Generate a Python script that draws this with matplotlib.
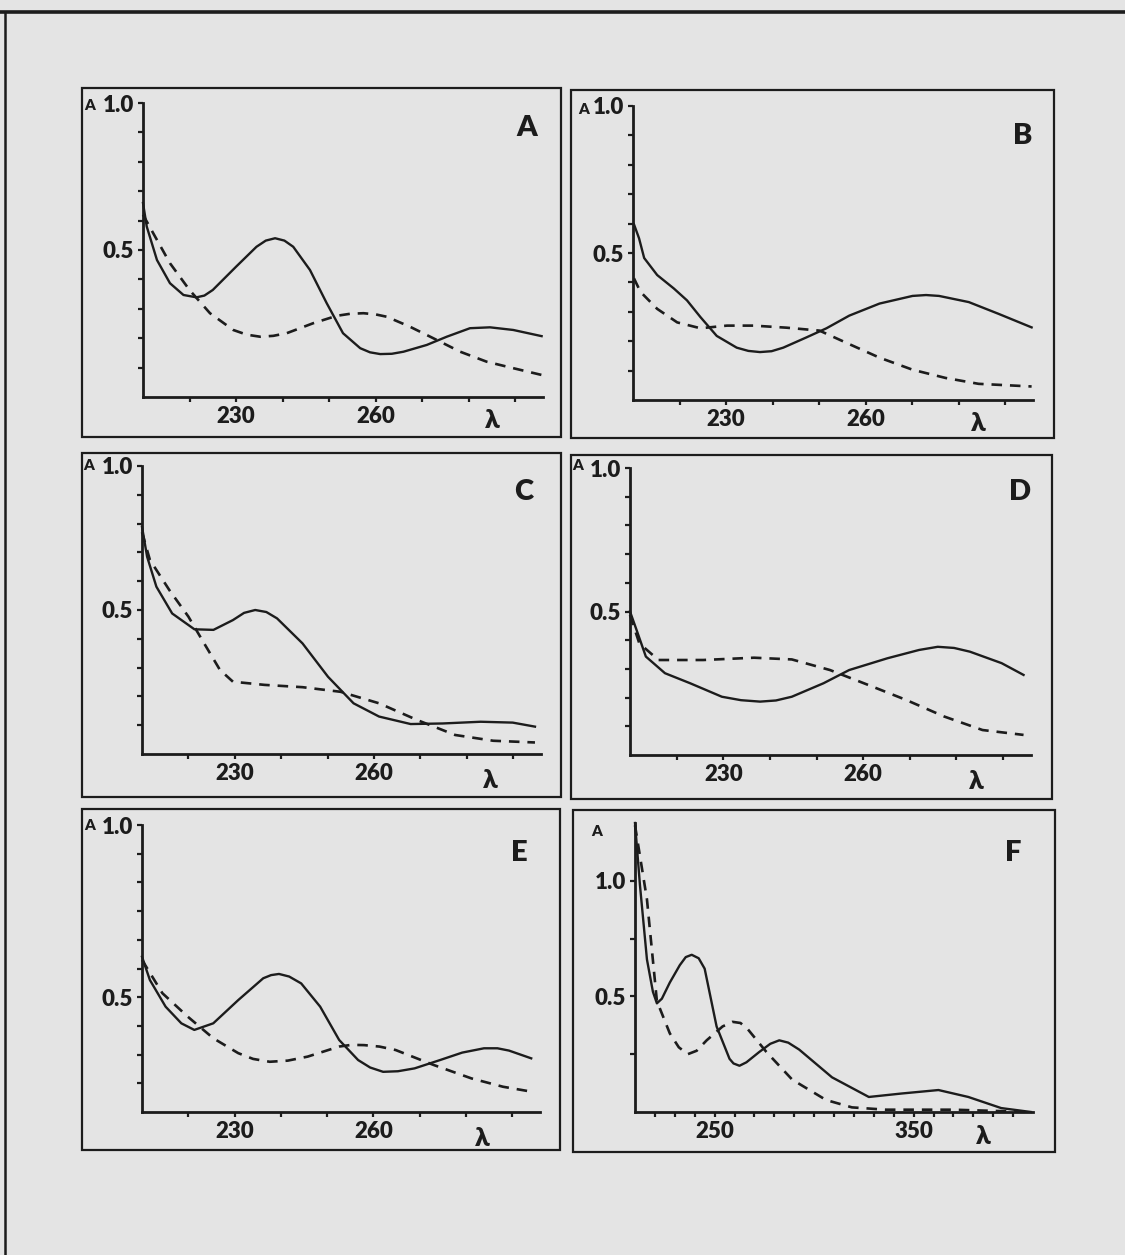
import numpy as np
import matplotlib.pyplot as plt
from matplotlib.patches import Rectangle
from matplotlib.lines import Line2D

W, H = 1125, 1255
BG = '#e4e4e4'
INK = '#1c1c1c'
FONT = ['Lato', 'DejaVu Sans']
WEIGHT = 'heavy'

# --- spectra (wavelength nm, absorbance) ---
a_sol_nm = [210, 210.8, 213, 215.8, 218.7, 221.5, 223.2, 225, 230, 234.4, 236.4, 238.4, 240.4,
            242.3, 245.9, 249.5, 253, 256.7, 258.8, 261, 263.5, 266, 271, 275.3, 280.3, 284.6,
            289.6, 295.7]
a_sol_ab = [0.66, 0.58, 0.466, 0.387, 0.347, 0.339, 0.345, 0.364, 0.443, 0.511, 0.532, 0.54, 0.532,
            0.511, 0.432, 0.319, 0.217, 0.166, 0.152, 0.146, 0.147, 0.154, 0.177, 0.205, 0.234, 0.237,
            0.228, 0.207]
a_das_nm = [210, 212.2, 215.8, 220, 224.4, 229.4, 232.3, 235.2, 238, 240.9, 246.6, 251.6, 254.5,
            257.4, 260, 262.4, 267.4, 272.4, 278.2, 283.9, 289.6, 295.7]
a_das_ab = [0.62, 0.557, 0.455, 0.364, 0.285, 0.228, 0.212, 0.205, 0.208, 0.217, 0.251, 0.276, 0.283,
            0.285, 0.281, 0.273, 0.239, 0.2, 0.154, 0.12, 0.098, 0.075]

b_sol_nm = [210.2, 211.3, 212.4, 215.2, 218.8, 221.6, 224.5, 228, 232.3, 234.8, 237.3, 239.8,
            242.3, 247.3, 251.6, 256.5, 263, 270.1, 273, 275.8, 282.2, 288.6, 295.7]
b_sol_ab = [0.598, 0.55, 0.483, 0.425, 0.379, 0.339, 0.282, 0.218, 0.178, 0.167, 0.163, 0.166,
            0.178, 0.213, 0.244, 0.287, 0.328, 0.354, 0.357, 0.354, 0.333, 0.293, 0.247]
b_das_nm = [210.2, 211.6, 215.2, 219.5, 224.5, 230.2, 235.9, 243, 250.1, 255.8, 263, 270.1,
            277.2, 284.3, 295.7]
b_das_ab = [0.414, 0.368, 0.31, 0.264, 0.244, 0.253, 0.253, 0.246, 0.236, 0.195, 0.144, 0.103,
            0.075, 0.055, 0.046]

c_sol_nm = [210, 211.1, 213.1, 216.5, 221.3, 225.4, 229.6, 232, 234.4, 236.8, 239.1, 244.6,
            250.1, 255.6, 261.1, 267.9, 274.8, 283, 289.9, 294.7]
c_sol_ab = [0.789, 0.685, 0.581, 0.488, 0.433, 0.431, 0.465, 0.49, 0.5, 0.493, 0.471, 0.384,
            0.268, 0.176, 0.13, 0.104, 0.106, 0.112, 0.109, 0.095]
c_das_nm = [210, 211.7, 215.9, 220, 223.4, 226.8, 229.6, 236.4, 244.6, 252.8, 261.1, 269.3,
            277.5, 285.7, 294.7]
c_das_ab = [0.77, 0.674, 0.569, 0.477, 0.384, 0.292, 0.251, 0.24, 0.232, 0.216, 0.176, 0.118,
            0.066, 0.046, 0.04]

d_sol_nm = [210, 211.4, 213.4, 217.5, 222.9, 229.7, 233.8, 237.9, 241.3, 244.7, 251.5, 257,
            265.2, 272, 276, 279.5, 282.9, 289.7, 294.4]
d_sol_ab = [0.5, 0.436, 0.343, 0.285, 0.25, 0.203, 0.191, 0.186, 0.19, 0.203, 0.25, 0.296,
            0.337, 0.366, 0.377, 0.373, 0.36, 0.32, 0.279]
d_das_nm = [210, 212, 216.1, 225.7, 236.6, 244.7, 252.9, 261.1, 269.2, 277.4, 285.6, 294.4]
d_das_ab = [0.488, 0.389, 0.331, 0.331, 0.339, 0.333, 0.296, 0.244, 0.192, 0.134, 0.087, 0.07]

e_sol_nm = [210, 211.7, 215.1, 218.5, 221.3, 225.4, 230.8, 236.2, 237.9, 239.6, 241.8, 244.4,
            248.5, 252.6, 256.7, 259.3, 262.1, 265.3, 268.9, 274.4, 279.2, 283.9, 286.8, 289.3,
            294.1]
e_sol_ab = [0.541, 0.46, 0.367, 0.309, 0.286, 0.309, 0.39, 0.466, 0.477, 0.481, 0.472, 0.448,
            0.367, 0.251, 0.181, 0.155, 0.14, 0.142, 0.152, 0.181, 0.207, 0.222, 0.222, 0.214,
            0.187]
e_das_nm = [210, 214.4, 219.9, 225.4, 230.8, 234, 237.6, 241.5, 245.8, 252.6, 255.3, 258,
            261.3, 264.8, 273, 281.2, 288, 294.1]
e_das_ab = [0.53, 0.414, 0.332, 0.257, 0.205, 0.185, 0.175, 0.179, 0.193, 0.228, 0.234, 0.233,
            0.228, 0.216, 0.164, 0.117, 0.088, 0.071]

f_sol_nm = [210, 212.5, 216, 219, 221, 223.5, 227.5, 232.5, 235.5, 238.5, 242, 245, 251, 257.5,
            259.5, 262.5, 266, 272.5, 278, 282.5, 287, 292.5, 309, 327.5, 344, 362.5, 377.5,
            394, 409]
f_sol_ab = [1.25, 0.98, 0.66, 0.52, 0.47, 0.49, 0.56, 0.635, 0.67, 0.68, 0.665, 0.62, 0.37,
            0.23, 0.21, 0.2, 0.215, 0.26, 0.295, 0.31, 0.3, 0.27, 0.15, 0.065, 0.08, 0.095,
            0.065, 0.017, 0.0]
f_das_nm = [210, 216, 221, 227.5, 232, 236.5, 241, 246, 254, 259, 263, 266.5, 276, 289, 306,
            319, 336, 370, 409]
f_das_ab = [1.24, 0.92, 0.48, 0.34, 0.28, 0.25, 0.265, 0.31, 0.37, 0.39, 0.385, 0.36, 0.26,
            0.14, 0.052, 0.02, 0.01, 0.01, 0.0]

letters = ['A', 'B', 'C', 'D', 'E', 'F']
x_labels = [[230, 260]] * 5 + [[250, 350]]


def fx(x):
    return x / W


def fy(y):
    return 1 - y / H


fig = plt.figure(figsize=(W / 100, H / 100), dpi=100, facecolor=BG)

# page frame: top and left edges only
fig.add_artist(Line2D([0, 1], [fy(12), fy(12)], color=INK, lw=2.6))
fig.add_artist(Line2D([fx(5), fx(5)], [0, fy(12)], color=INK, lw=1.8))

# layout in pixels: box (l, t, r, b), axes (l, bottom, r, top), big letter, small "A", lambda
panels = [
    dict(box=(82, 88, 561, 437), ax=(143, 397, 543, 103), big=(527, 128), small=(90, 106), lam=(492, 420),
         sol=(a_sol_nm, a_sol_ab), das=(a_das_nm, a_das_ab)),
    dict(box=(571, 90, 1054, 438), ax=(633, 400, 1033, 106), big=(1023, 136), small=(584, 110), lam=(978, 423),
         sol=(b_sol_nm, b_sol_ab), das=(b_das_nm, b_das_ab)),
    dict(box=(82, 453, 561, 797), ax=(142, 754, 541, 466), big=(524, 492), small=(89, 465), lam=(490, 780),
         sol=(c_sol_nm, c_sol_ab), das=(c_das_nm, c_das_ab)),
    dict(box=(571, 455, 1052, 799), ax=(630, 755, 1031, 468), big=(1020, 492), small=(578, 465), lam=(976, 781),
         sol=(d_sol_nm, d_sol_ab), das=(d_das_nm, d_das_ab)),
    dict(box=(82, 809, 560, 1150), ax=(142, 1112, 540, 825), big=(519, 853), small=(90, 825), lam=(482, 1138),
         sol=(e_sol_nm, e_sol_ab), das=(e_das_nm, e_das_ab)),
    dict(box=(573, 810, 1055, 1152), ax=(635, 1112, 1033, 823), big=(1013, 853), small=(597, 832), lam=(983, 1136),
         sol=(f_sol_nm, f_sol_ab), das=(f_das_nm, f_das_ab)),
]

for i, p in enumerate(panels):
    l, t, r, b = p['box']
    fig.add_artist(Rectangle((fx(l), fy(b)), (r - l) / W, (b - t) / H,
                             transform=fig.transFigure, fill=False, ec=INK, lw=1.6))

    al, ab, ar, at = p['ax']
    ax = fig.add_axes([fx(al), fy(ab), (ar - al) / W, (ab - at) / H])
    ax.patch.set_alpha(0)
    for s in ['top', 'right']:
        ax.spines[s].set_visible(False)
    for s in ['left', 'bottom']:
        ax.spines[s].set_linewidth(2)
        ax.spines[s].set_color(INK)

    ax.plot(*p['sol'], color=INK, lw=1.7, clip_on=False, solid_joinstyle='round')
    ax.plot(*p['das'], color=INK, lw=1.9, ls=(0, (4, 3)), clip_on=False)

    if letters[i] == 'F':
        ax.set_xlim(210, 410)
        ax.set_ylim(0, 1.25)
        ax.set_xticks(np.arange(220, 401, 10))
        yt = [0.25, 0.5, 0.75, 1.0]
        ylab = {0.5: '0.5', 1.0: '1.0'}
    else:
        ax.set_xlim(210, 296)
        ax.set_ylim(0, 1.0)
        ax.set_xticks(np.arange(220, 291, 10))
        yt = [round(v, 1) for v in np.arange(0.1, 1.01, 0.1)]
        # the original print puts the "0.5" label of panel E on the fourth tick
        ylab = {0.4: '0.5', 1.0: '1.0'} if letters[i] == 'E' else {0.5: '0.5', 1.0: '1.0'}
    ax.set_xticklabels([str(v) if v in x_labels[i] else '' for v in ax.get_xticks()])
    ax.set_yticks(yt)
    ax.set_yticklabels([ylab.get(v, '') for v in yt])
    ax.tick_params(direction='out', length=3.5, width=1.6, color=INK, labelsize=16,
                   labelcolor=INK, pad=3)
    for lab in ax.get_xticklabels() + ax.get_yticklabels():
        lab.set_family(FONT)
        lab.set_fontweight(WEIGHT)

    fig.text(fx(p['big'][0]), fy(p['big'][1]), letters[i], ha='center', va='center',
             fontsize=21, fontweight=WEIGHT, family=FONT, color=INK)
    fig.text(fx(p['small'][0]), fy(p['small'][1]), 'A', ha='center', va='center',
             fontsize=11, fontweight=WEIGHT, family=FONT, color=INK)
    fig.text(fx(p['lam'][0]), fy(p['lam'][1]), 'λ', ha='center', va='center',
             fontsize=19, fontweight=WEIGHT, family=FONT, color=INK)

fig.savefig('out.png', dpi=100, facecolor=BG)
